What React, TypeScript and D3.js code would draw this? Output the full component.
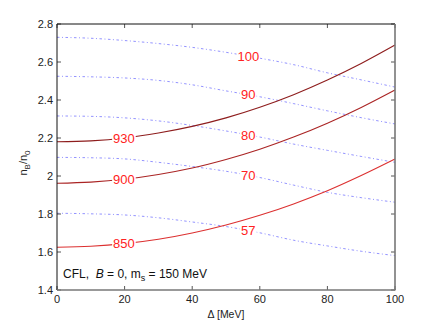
import React from 'react'
import * as d3 from 'd3'

// gap energy Delta [MeV]
const delta = [0, 10, 20, 30, 40, 50, 60, 70, 80, 90, 100]

// solid curves: fixed baryon chemical potential (MeV)
const mu930 = [2.18, 2.185, 2.2, 2.226, 2.261, 2.306, 2.362, 2.428, 2.505, 2.592, 2.689]
const mu900 = [1.962, 1.968, 1.983, 2.008, 2.042, 2.087, 2.141, 2.205, 2.278, 2.361, 2.453]
const mu850 = [1.625, 1.63, 1.644, 1.667, 1.7, 1.742, 1.793, 1.853, 1.922, 2.002, 2.089]

// dotted curves: fixed temperature-like parameter
const t100 = [2.73, 2.725, 2.713, 2.697, 2.677, 2.651, 2.62, 2.586, 2.543, 2.506, 2.468]
const t90 = [2.525, 2.522, 2.516, 2.503, 2.48, 2.448, 2.417, 2.381, 2.343, 2.307, 2.274]
const t80 = [2.316, 2.314, 2.306, 2.29, 2.266, 2.237, 2.205, 2.168, 2.135, 2.103, 2.072]
const t70 = [2.098, 2.096, 2.09, 2.072, 2.05, 2.025, 1.992, 1.952, 1.914, 1.886, 1.862]
const t57 = [1.804, 1.801, 1.795, 1.78, 1.758, 1.734, 1.701, 1.662, 1.632, 1.604, 1.581]

const solidSeries = [
  { label: '930', values: mu930, color: '#8e1d1d' },
  { label: '900', values: mu900, color: '#aa2424' },
  { label: '850', values: mu850, color: '#dc3030' },
]
const dottedSeries = [
  { label: '100', values: t100 },
  { label: '90', values: t90 },
  { label: '80', values: t80 },
  { label: '70', values: t70 },
  { label: '57', values: t57 },
]

const xTicks = [0, 20, 40, 60, 80, 100]
const yTicks = [1.4, 1.6, 1.8, 2, 2.2, 2.4, 2.6, 2.8]

const solidLabelAt = 19.8
const dottedLabelAt = 56.6

const width = 436
const height = 328
const left = 57
const right = 395
const top = 24
const bottom = 290

const font = 'Liberation Sans, Arial, Helvetica, sans-serif'

const App = () => {
  const x = d3.scaleLinear().domain([0, 100]).range([left, right])
  const y = d3.scaleLinear().domain([1.4, 2.8]).range([bottom, top])

  const line = d3
    .line<number>()
    .x((d, i) => x(delta[i]))
    .y(d => y(d))
    .curve(d3.curveMonotoneX)

  const valueAt = (values: number[], at: number) => {
    const interp = d3.scaleLinear().domain(delta).range(values)
    return interp(at)
  }

  const label = (text: string, at: number, values: number[], key: string) => {
    const cx = x(at)
    const cy = y(valueAt(values, at))
    const w = text.length * 7.2 + 2
    return (
      <g key={key}>
        <rect x={cx - w / 2} y={cy - 7} width={w} height={14} fill="white" />
        <text
          x={cx}
          y={cy}
          dy="0.36em"
          textAnchor="middle"
          fill="#ff2222"
          fontSize={13}
          fontFamily={font}
        >
          {text}
        </text>
      </g>
    )
  }

  return (
    <svg
      width={width}
      height={height}
      style={{ position: 'absolute', left: 0, top: 0, background: 'white' }}
    >
      {dottedSeries.map(s => (
        <path
          key={s.label}
          d={line(s.values) || ''}
          fill="none"
          stroke="#7878ff"
          strokeWidth={1}
          strokeDasharray="2.5,2.5,1,2.5"
          opacity={0.8}
        />
      ))}
      {solidSeries.map(s => (
        <path
          key={s.label}
          d={line(s.values) || ''}
          fill="none"
          stroke={s.color}
          strokeWidth={1.1}
        />
      ))}
      {dottedSeries.map(s => label(s.label, dottedLabelAt, s.values, 'd' + s.label))}
      {solidSeries.map(s => label(s.label, solidLabelAt, s.values, 's' + s.label))}

      {/* ticks, inward on all four sides */}
      {xTicks.map(t => (
        <g key={'xt' + t} stroke="#555" strokeWidth={1}>
          <line x1={x(t)} x2={x(t)} y1={bottom} y2={bottom - 4} />
          <line x1={x(t)} x2={x(t)} y1={top} y2={top + 4} />
        </g>
      ))}
      {yTicks.map(t => (
        <g key={'yt' + t} stroke="#555" strokeWidth={1}>
          <line x1={left} x2={left + 4} y1={y(t)} y2={y(t)} />
          <line x1={right} x2={right - 4} y1={y(t)} y2={y(t)} />
        </g>
      ))}

      {/* box */}
      <line x1={left} x2={right} y1={top} y2={top} stroke="#111" strokeWidth={1} />
      <line x1={left} x2={left} y1={top} y2={bottom} stroke="#111" strokeWidth={1} />
      <line x1={left} x2={right + 0.5} y1={bottom} y2={bottom} stroke="#777" strokeWidth={1.6} />
      <line x1={right} x2={right} y1={top} y2={bottom} stroke="#777" strokeWidth={1.6} />

      {xTicks.map(t => (
        <text
          key={'xl' + t}
          x={x(t)}
          y={bottom + 13}
          textAnchor="middle"
          fontSize={11}
          fontFamily={font}
          fill="#222"
        >
          {t}
        </text>
      ))}
      {yTicks.map(t => (
        <text
          key={'yl' + t}
          x={left - 4}
          y={y(t)}
          dy="0.36em"
          textAnchor="end"
          fontSize={11}
          fontFamily={font}
          fill="#222"
        >
          {String(t)}
        </text>
      ))}

      <text
        x={(left + right) / 2}
        y={318}
        textAnchor="middle"
        fontSize={10.5}
        fontFamily={font}
        fill="#222"
      >
        Δ [MeV]
      </text>

      <text
        transform={`translate(27, ${(top + bottom) / 2 + 6}) rotate(-90)`}
        textAnchor="middle"
        fontSize={11}
        fontFamily={font}
        fill="#222"
      >
        n<tspan fontSize={8} dy={3}>B</tspan>
        <tspan dy={-3}>/n</tspan>
        <tspan fontSize={8} dy={3}>0</tspan>
      </text>

      <text x={63} y={278} fontSize={12} fontFamily={font} fill="#111">
        CFL,{'\u00a0\u00a0'}
        <tspan fontStyle="italic">B</tspan> = 0, m
        <tspan fontSize={9} dy={3}>s</tspan>
        <tspan dy={-3}> = 150 MeV</tspan>
      </text>
    </svg>
  )
}

export default App
